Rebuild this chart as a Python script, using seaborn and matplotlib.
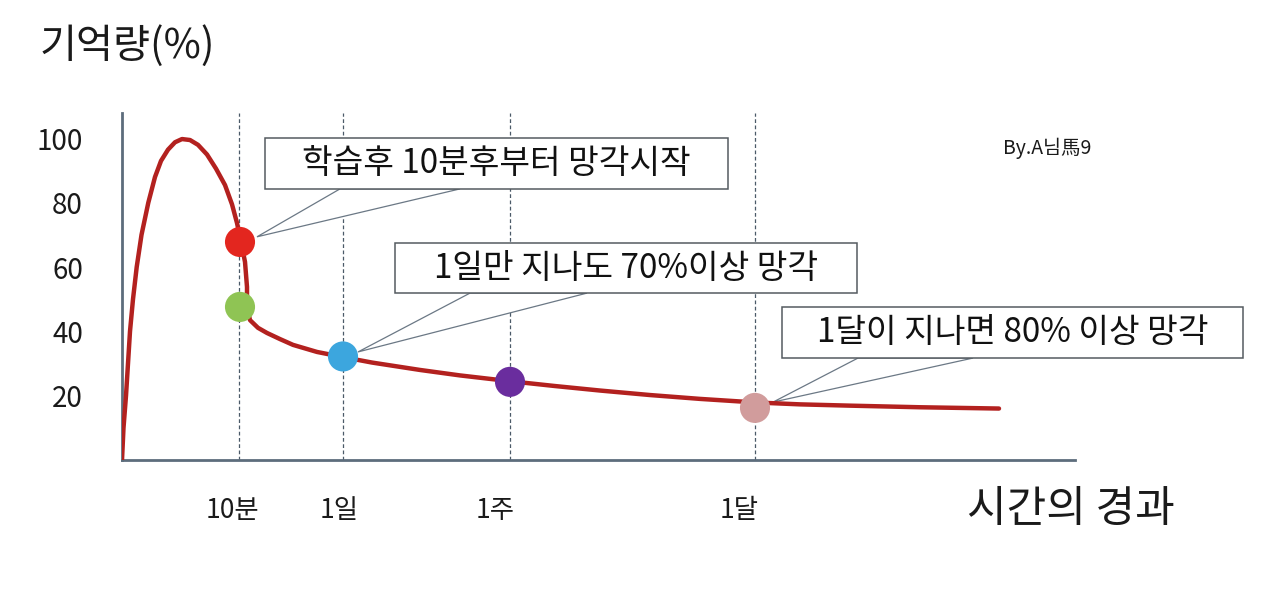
import matplotlib
matplotlib.use("Agg")
import matplotlib.pyplot as plt
import seaborn as sns
import pandas as pd
from matplotlib.patches import Rectangle, Polygon

# ---------------- data ----------------
# time position (arbitrary scale) and memory amount (%) along the curve
curve_x = [0.0, 0.15, 0.4, 0.6, 0.8, 1.1, 1.47, 1.95, 2.63, 3.3, 3.9, 4.6, 5.3,
           6.0, 6.8, 7.6, 8.5, 9.4, 10.3, 11.0, 11.5, 11.9, 12.3, 12.5, 12.5,
           12.8, 13.6, 14.5, 15.8, 17.1, 19.5, 22.1, 25.0, 29.8, 33.8, 38.8,
           43.3, 47.8, 52.8, 57.8, 63.3, 67.8, 72.8, 79.8, 87.7]
curve_y = [0.0, 10.0, 20.0, 30.0, 40.0, 50.0, 60.0, 70.0, 80.0, 88.0, 93.0, 96.5,
           98.8, 99.8, 99.5, 98.0, 95.0, 90.6, 85.5, 79.5, 73.7, 67.8, 61.6, 53.8,
           47.6, 43.5, 41.1, 39.5, 37.6, 35.8, 33.6, 32.0, 30.3, 28.0, 26.3, 24.5,
           23.0, 21.6, 20.2, 19.0, 17.9, 17.3, 16.9, 16.4, 16.0]

dot_x = [11.8, 11.8, 22.1, 38.8, 63.3]
dot_y = [67.8, 47.6, 32.2, 24.3, 16.2]
dot_colors = ["#e3261f", "#8fc454", "#3ca6de", "#6a2d9e", "#d19c9c"]

period_x = [11.7, 22.1, 38.8, 63.3]          # dashed guide lines
period_label_x = [11.0, 21.7, 37.3, 61.7]    # label positions
period_labels = ["10분", "1일", "1주", "1달"]

y_ticks = [20, 40, 60, 80, 100]

notes = ["학습후 10분후부터 망각시작", "1일만 지나도 70%이상 망각", "1달이 지나면 80% 이상 망각"]
note_boxes = [(14.3, 84.3, 46.3, 15.9), (27.3, 51.9, 46.2, 15.6), (66.0, 31.7, 46.1, 15.9)]
note_wedges = [[(21.8, 84.3), (33.8, 84.3), (13.5, 69.4)],
               [(34.8, 51.9), (46.5, 51.9), (23.6, 33.6)],
               [(73.6, 31.7), (85.1, 31.7), (65.1, 18.0)]]

# ---------------- style ----------------
sns.set_style("white")
plt.rcParams["font.family"] = ["Noto Sans CJK KR", "DejaVu Sans"]

fig = plt.figure(figsize=(12.8, 5.9), dpi=100)
ax = fig.add_axes([122 / 1280, 1 - 460 / 590, (1075 - 122) / 1280, (460 - 113) / 590])
ax.set_xlim(0, 95.3)
ax.set_ylim(0, 107.9)

axis_col = "#5d6d7c"
for s in ["top", "right"]:
    ax.spines[s].set_visible(False)
for s in ["left", "bottom"]:
    ax.spines[s].set_color(axis_col)
    ax.spines[s].set_linewidth(2.0)

# dashed guides
for xv in period_x:
    ax.axvline(xv, color="#4b5a68", lw=0.9, ls=(0, (3, 2)), zorder=1)

# callout boxes
for (bx, by, bw, bh), wedge, txt in zip(note_boxes, note_wedges, notes):
    ax.add_patch(Polygon(wedge, closed=True, facecolor="white", edgecolor="#6b7885",
                         lw=0.9, clip_on=False, zorder=2))
    ax.add_patch(Rectangle((bx, by), bw, bh, facecolor="white", edgecolor="#555b60",
                           lw=1.1, clip_on=False, zorder=3))
    ax.text(bx + bw / 2, by + bh / 2, txt, ha="center", va="center",
            fontsize=24, color="#111111", zorder=4, clip_on=False)

df = pd.DataFrame({"t": curve_x, "m": curve_y})
sns.lineplot(data=df, x="t", y="m", sort=False, estimator=None, ax=ax,
             color="#b3211f", lw=3.2, zorder=5, solid_joinstyle="round",
             solid_capstyle="round")

dots = pd.DataFrame({"t": dot_x, "m": dot_y, "c": dot_colors})
sns.scatterplot(data=dots, x="t", y="m", hue="c", palette=dict(zip(dot_colors, dot_colors)),
                s=470, linewidth=0, legend=False, ax=ax, zorder=6)

ax.set_xlabel("")
ax.set_ylabel("")
ax.set_yticks(y_ticks)
ax.set_yticklabels([str(v) for v in y_ticks])
ax.tick_params(axis="y", direction="in", length=19, width=1.3, color=axis_col,
               pad=28, labelsize=20, labelcolor="#1a1a1a")
ax.set_xticks(period_label_x)
ax.set_xticklabels(period_labels)
ax.tick_params(axis="x", length=0, pad=27, labelsize=19, labelcolor="#1a1a1a")
ax.grid(False)

fig.text(40 / 1280, 1 - 46 / 590, "기억량(%)", fontsize=29, ha="left", va="center", color="#1a1a1a")
fig.text(967 / 1280, 1 - 510 / 590, "시간의 경과", fontsize=31, ha="left", va="center", color="#1a1a1a")
fig.text(1003 / 1280, 1 - 148 / 590, "By.A님馬9", fontsize=14, ha="left", va="center", color="#1a1a1a")

fig.savefig("out.png", dpi=100, facecolor="white")
